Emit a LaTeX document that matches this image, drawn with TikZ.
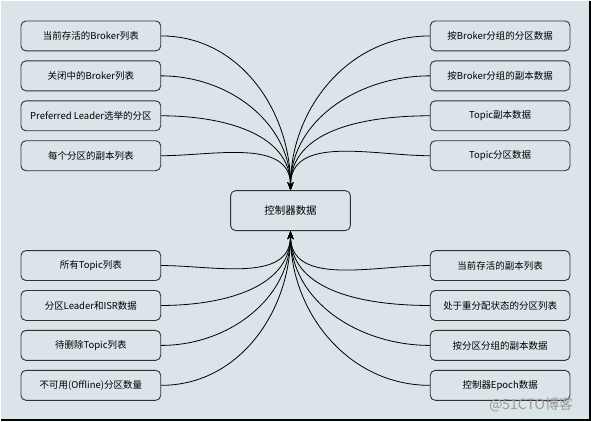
\documentclass[tikz,border=0pt]{standalone}
\usepackage{fontspec}
\setmainfont{Noto Sans CJK SC}
\usetikzlibrary{positioning,arrows.meta}
\definecolor{canvas}{RGB}{218,228,233}

\begin{document}
\begin{tikzpicture}[
    x=1pt, y=1pt, >={Stealth[length=8pt, width=6pt]},
    node distance=40pt and 410pt, on grid,
    item/.style={draw=black!80, rounded corners=5pt, line width=0.9pt,
      minimum width=140pt, minimum height=30pt,
      font=\fontsize{9.5}{11}\selectfont, align=center},
    flow/.style={->, line width=0.8pt}]
  % background and frame
  \fill[canvas] (0,0) rectangle (591,421);
  \draw[line width=2pt] (0,1) -- (590,1) -- (590,421);
  \node[item, minimum width=120pt, minimum height=40pt,
    font=\fontsize{10.5}{12}\selectfont] (ctrl) at (290,211) {控制器数据};
  % left column
  \node[item] (l1) at (90,386) {当前存活的Broker列表};
  \node[item, below=of l1] (l2) {关闭中的Broker列表};
  \node[item, below=of l2] (l3) {Preferred Leader选举的分区};
  \node[item, below=of l3] (l4) {每个分区的副本列表};
  \node[item, below=110pt of l4] (l5) {所有Topic列表};
  \node[item, below=of l5] (l6) {分区Leader和ISR数据};
  \node[item, below=of l6] (l7) {待删除Topic列表};
  \node[item, below=of l7] (l8) {不可用(Offline)分区数量};
  % right column
  \node[item, right=of l1] (r1) {按Broker分组的分区数据};
  \node[item, right=of l2] (r2) {按Broker分组的副本数据};
  \node[item, right=of l3] (r3) {Topic副本数据};
  \node[item, right=of l4] (r4) {Topic分区数据};
  \node[item, right=of l5] (r5) {当前存活的副本列表};
  \node[item, right=of l6] (r6) {处于重分配状态的分区列表};
  \node[item, right=of l7] (r7) {按分区分组的副本数据};
  \node[item, right=of l8] (r8) {控制器Epoch数据};
  % connectors
  \foreach \n in {l1,l2,l3,l4}
    \draw[flow] (\n.east) to[out=0, in=90] (ctrl.north);
  \foreach \n in {r1,r2,r3,r4}
    \draw[flow] (\n.west) to[out=180, in=90] (ctrl.north);
  \foreach \n in {l5,l6,l7,l8}
    \draw[flow] (\n.east) to[out=0, in=-90] (ctrl.south);
  \foreach \n in {r5,r6,r7,r8}
    \draw[flow] (\n.west) to[out=180, in=-90] (ctrl.south);
  \node[text=gray!80, font=\fontsize{14}{15}\selectfont] (mark) at (531,17) {@51CTO博客};
\end{tikzpicture}
\end{document}
